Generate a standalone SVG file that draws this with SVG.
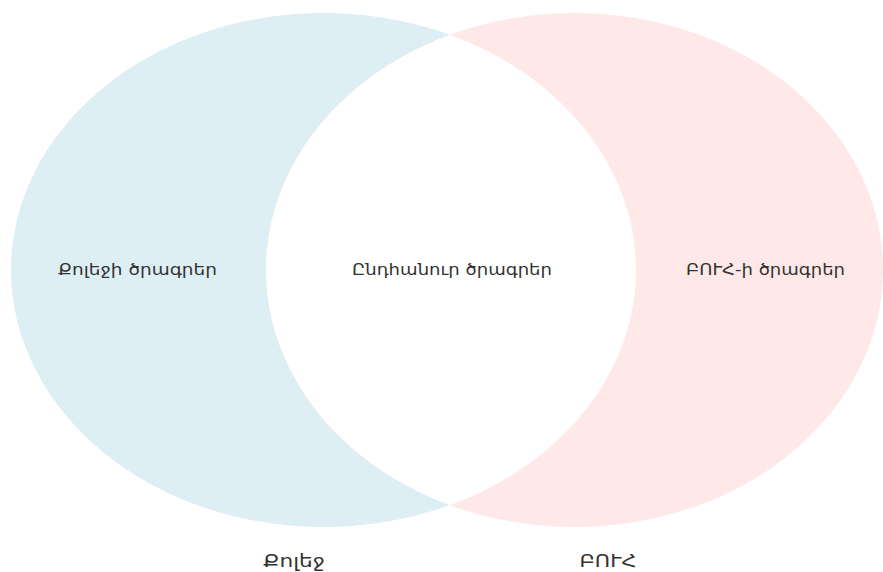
<svg xmlns="http://www.w3.org/2000/svg" width="883" height="572" viewBox="0 0 883 572">
<style>
.lbl{font-family:"DejaVu Sans","Noto Sans",sans-serif;font-size:15px;fill:#333;text-anchor:middle;dominant-baseline:central}
.set{font-family:"DejaVu Sans","Noto Sans",sans-serif;font-size:17px;fill:#333;text-anchor:middle;dominant-baseline:central}
</style>
<defs>
<clipPath id="clipR"><ellipse cx="574.5" cy="270" rx="308.5" ry="257"/></clipPath>
</defs>
<rect width="883" height="572" fill="#fff"/>
<g id="set-college">
<ellipse cx="323.5" cy="270" rx="312.5" ry="257" fill="#deeef5"/>
</g>
<g id="set-university">
<ellipse cx="574.5" cy="270" rx="308.5" ry="257" fill="#fee8e8"/>
</g>
<g id="intersection">
<ellipse cx="323.5" cy="270" rx="312.5" ry="257" fill="#fff" clip-path="url(#clipR)"/>
</g>
<g id="labels">
<text class="lbl" x="137.5" y="270" textLength="159" lengthAdjust="spacingAndGlyphs">Քոլեջի ծրագրեր</text>
<text class="lbl" x="452" y="270" textLength="200" lengthAdjust="spacingAndGlyphs">Ընդհանուր ծրագրեր</text>
<text class="lbl" x="765.5" y="270" textLength="159" lengthAdjust="spacingAndGlyphs">ԲՈՒՀ-ի ծրագրեր</text>
<text class="set" x="294" y="561" textLength="62" lengthAdjust="spacingAndGlyphs">Քոլեջ</text>
<text class="set" x="608" y="561" textLength="57" lengthAdjust="spacingAndGlyphs">ԲՈՒՀ</text>
</g>
<g id="connectors"/>
</svg>
